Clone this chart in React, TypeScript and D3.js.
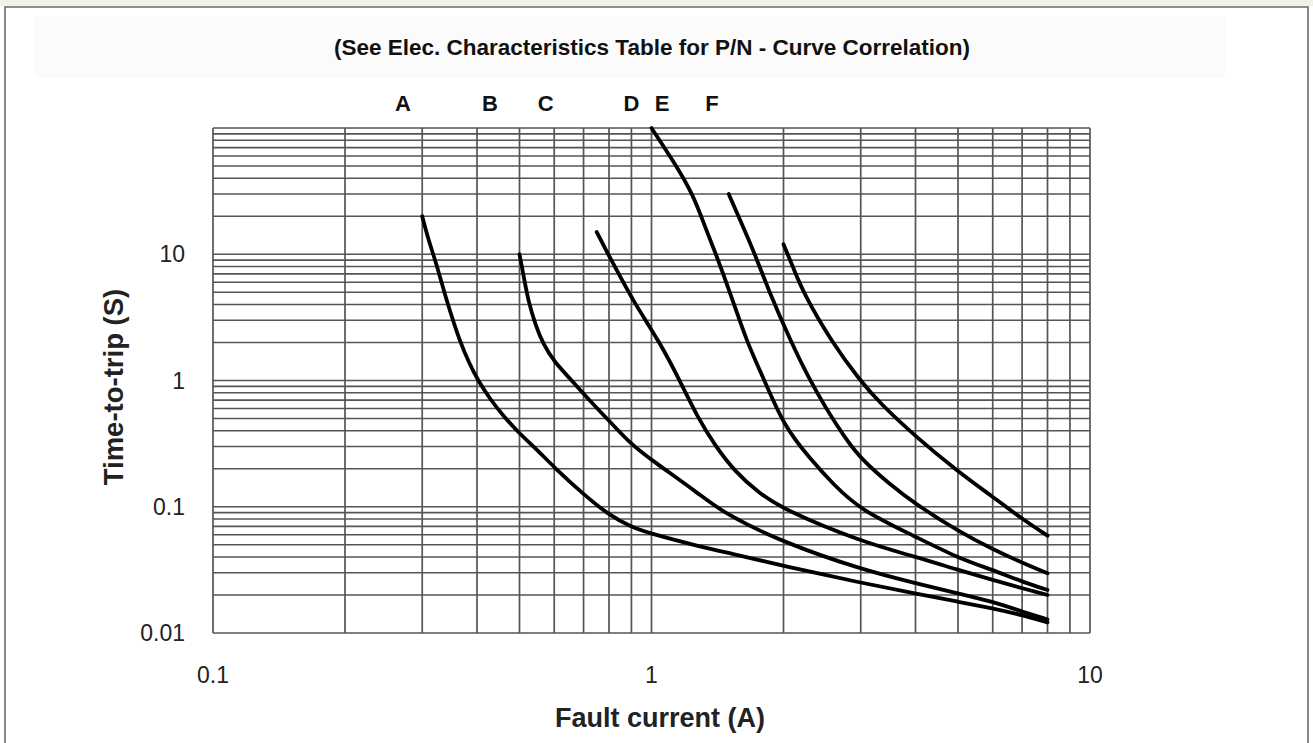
import React, { useRef, useEffect } from 'react';
import * as d3 from 'd3';

// Curve data: [fault current (A), time-to-trip (s)]
const curveA: [number, number][] = [
    [0.3, 20], [0.31, 13], [0.318, 10], [0.33, 6.5], [0.341, 4.3], [0.366, 2], [0.385, 1.35], [0.402, 1.0],
    [0.43, 0.7], [0.46, 0.52], [0.5, 0.38], [0.55, 0.28], [0.6, 0.205], [0.7, 0.125], [0.8, 0.086],
    [0.9, 0.069], [1.0, 0.061], [1.3, 0.048], [1.5, 0.043], [2, 0.034], [3, 0.025], [4, 0.0205],
    [5, 0.0177], [6, 0.0157], [7, 0.0139], [8, 0.0121],
];
const curveB: [number, number][] = [
    [0.5, 10], [0.51, 7], [0.523, 4.3], [0.545, 2.7], [0.566, 1.95], [0.6, 1.4], [0.662, 0.98], [0.72, 0.7],
    [0.792, 0.5], [0.9, 0.31], [1.0, 0.235], [1.29, 0.125], [1.46, 0.089], [2, 0.052], [3, 0.032],
    [4, 0.0248], [5, 0.0206], [6, 0.0177], [7, 0.0148], [8, 0.0128],
];
const curveC: [number, number][] = [
    [0.75, 15], [0.796, 10], [0.85, 6.6], [0.907, 4.3], [1.045, 2], [1.16, 1.0], [1.27, 0.52],
    [1.4, 0.3], [1.55, 0.19], [1.75, 0.13], [2, 0.095], [3, 0.053], [4, 0.0402], [5, 0.0316], [6, 0.0263],
    [7, 0.0226], [8, 0.02],
];
const curveD: [number, number][] = [
    [1.0, 100], [1.12, 55], [1.243, 30], [1.32, 17], [1.403, 10], [1.51, 5], [1.651, 2], [1.796, 1.07],
    [2, 0.44], [2.3, 0.24], [2.6, 0.15], [3, 0.094], [4, 0.058], [5, 0.0393], [6, 0.0316],
    [7, 0.0255], [8, 0.0219],
];
const curveE: [number, number][] = [
    [1.5, 30], [1.6, 18], [1.722, 10], [1.844, 5.3], [2.07, 2.1], [2.275, 1.07], [2.5, 0.6], [2.75, 0.36],
    [3, 0.24], [3.5, 0.15], [4, 0.105], [5, 0.064], [6, 0.046], [7, 0.036], [8, 0.0297],
];
const curveF: [number, number][] = [
    [2.0, 12], [2.1, 8], [2.215, 5], [2.58, 2], [2.99, 1.0], [3.32, 0.66], [4, 0.36], [5, 0.19],
    [6, 0.12], [7, 0.08], [8, 0.059],
];
const curves = [curveA, curveB, curveC, curveD, curveE, curveF];

// curve letters and the current value they sit above
const curveLabels = ['A', 'B', 'C', 'D', 'E', 'F'];
const curveLabelAt = [0.271, 0.428, 0.574, 0.9, 1.057, 1.374];

const xTicks = [0.1, 1, 10];
const yTicks = [0.01, 0.1, 1, 10];
const yTickLabels = ['0.01', '0.1', '1', '10'];

const title = '(See Elec. Characteristics Table for P/N - Curve Correlation)';
const xTitle = 'Fault current (A)';
const yTitle = 'Time-to-trip (S)';

const W = 1313;
const H = 743;
const font = "'Liberation Sans', Arial, sans-serif";

const App: React.FC = () => {
    const svgRef = useRef<SVGSVGElement>(null);

    useEffect(() => {
        if (!svgRef.current) return;
        const svg = d3.select(svgRef.current);
        svg.selectAll('*').remove();

        const x = d3.scaleLog().domain([0.1, 10]).range([213, 1090]);
        const y = d3.scaleLog().domain([0.01, 100]).range([633, 128]);

        svg.append('rect').attr('width', W).attr('height', H).attr('fill', '#fff');
        // faint top strip and frame
        svg.append('rect').attr('x', 0).attr('y', 0).attr('width', W).attr('height', 6).attr('fill', '#eef3e6');
        svg.append('rect').attr('x', 35).attr('y', 16).attr('width', 1190).attr('height', 62).attr('fill', '#fbfbfb');
        svg.append('path')
            .attr('d', `M5,${H} V7 H1308 V${H}`)
            .attr('fill', 'none')
            .attr('stroke', '#6a6a6a')
            .attr('stroke-width', 1.6);

        // grid
        const xGrid: number[] = [];
        [0.1, 1].forEach(d => d3.range(1, 10).forEach(k => xGrid.push(d * k)));
        xGrid.push(10);
        const yGrid: number[] = [];
        [0.01, 0.1, 1, 10].forEach(d => d3.range(1, 10).forEach(k => yGrid.push(d * k)));
        yGrid.push(100);

        const grid = svg.append('g').attr('stroke', '#555').attr('stroke-width', 1.7);
        grid.selectAll('line.v')
            .data(xGrid)
            .enter()
            .append('line')
            .attr('class', 'v')
            .attr('x1', d => x(d))
            .attr('x2', d => x(d))
            .attr('y1', y(100))
            .attr('y2', y(0.01));
        grid.selectAll('line.h')
            .data(yGrid)
            .enter()
            .append('line')
            .attr('class', 'h')
            .attr('x1', x(0.1))
            .attr('x2', x(10))
            .attr('y1', d => y(d))
            .attr('y2', d => y(d));

        // curves
        const line = d3.line<[number, number]>()
            .x(d => x(d[0]))
            .y(d => y(d[1]))
            .curve(d3.curveBasis);
        svg.append('g')
            .selectAll('path')
            .data(curves)
            .enter()
            .append('path')
            .attr('d', d => line(d))
            .attr('fill', 'none')
            .attr('stroke', '#000')
            .attr('stroke-width', 3.8)
            .attr('stroke-linecap', 'round')
            .attr('stroke-linejoin', 'round');

        // curve letters
        svg.append('g')
            .selectAll('text')
            .data(curveLabels)
            .enter()
            .append('text')
            .attr('x', (_, i) => x(curveLabelAt[i]))
            .attr('y', 111)
            .attr('text-anchor', 'middle')
            .attr('font-family', font)
            .attr('font-weight', 'bold')
            .attr('font-size', 22)
            .attr('fill', '#111')
            .text(d => d);

        // tick labels
        svg.append('g')
            .selectAll('text')
            .data(xTicks)
            .enter()
            .append('text')
            .attr('x', d => x(d))
            .attr('y', 683)
            .attr('text-anchor', 'middle')
            .attr('font-family', font)
            .attr('font-size', 23)
            .attr('fill', '#222')
            .text(d => String(d));
        svg.append('g')
            .selectAll('text')
            .data(yTicks)
            .enter()
            .append('text')
            .attr('x', 185)
            .attr('y', d => y(d) + 8)
            .attr('text-anchor', 'end')
            .attr('font-family', font)
            .attr('font-size', 23)
            .attr('fill', '#222')
            .text((_, i) => yTickLabels[i]);

        // titles
        svg.append('text')
            .attr('x', 652)
            .attr('y', 55)
            .attr('text-anchor', 'middle')
            .attr('font-family', font)
            .attr('font-weight', 'bold')
            .attr('font-size', 22.5)
            .attr('fill', '#111')
            .text(title);
        svg.append('text')
            .attr('x', 660)
            .attr('y', 727)
            .attr('text-anchor', 'middle')
            .attr('font-family', font)
            .attr('font-weight', 'bold')
            .attr('font-size', 27)
            .attr('fill', '#222')
            .text(xTitle);
        svg.append('text')
            .attr('transform', `translate(123, 387) rotate(-90)`)
            .attr('text-anchor', 'middle')
            .attr('font-family', font)
            .attr('font-weight', 'bold')
            .attr('font-size', 27.5)
            .attr('fill', '#222')
            .text(yTitle);
    }, []);

    return (
        <svg
            ref={svgRef}
            width={W}
            height={H}
            style={{ position: 'absolute', left: 0, top: 0 }}
        />
    );
};

export default App;
